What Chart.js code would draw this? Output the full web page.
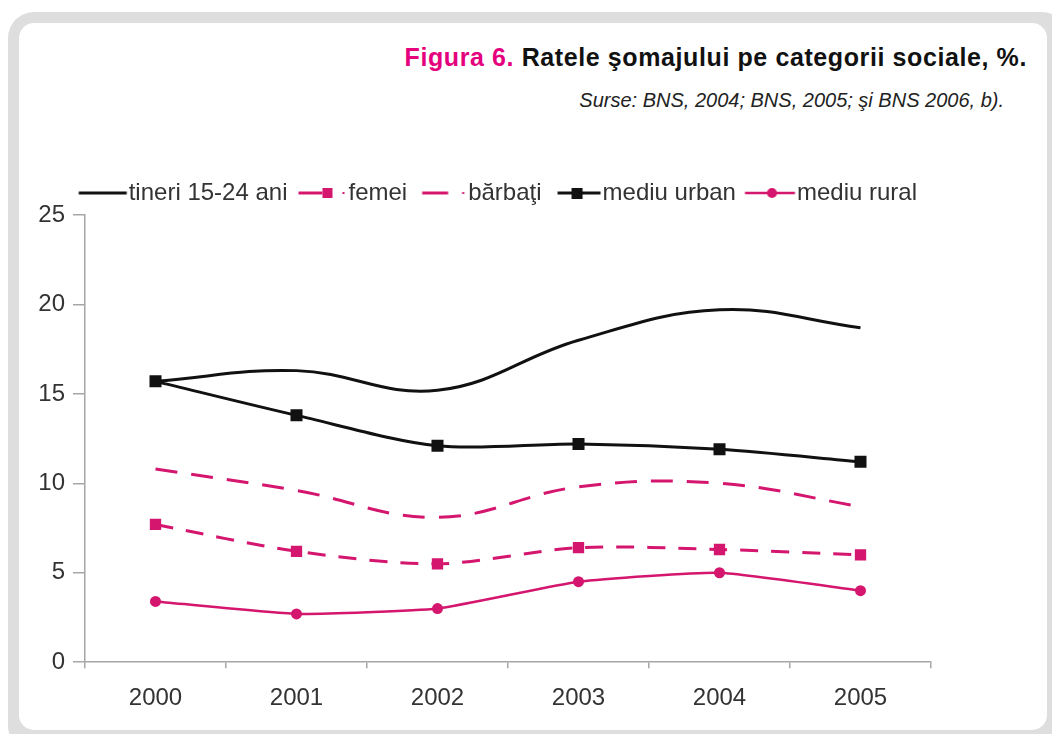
<!DOCTYPE html>
<html>
<head>
<meta charset="utf-8">
<script src="https://cdn.jsdelivr.net/npm/chart.js@4/dist/chart.umd.min.js"></script>
<style>
  body { margin: 0; width: 1052px; height: 734px; overflow: hidden; background: #fff; position: relative; font-family: "Liberation Sans", Arial, sans-serif; }
  #frame { position: absolute; left: 8px; top: 12px; width: 1060px; height: 740px; background: #dedede; border-radius: 26px; }
  #card { position: absolute; left: 19px; top: 23px; width: 1028px; height: 707px; background: #fff; border-radius: 15px; }
  #title { position: absolute; right: 25px; top: 45px; font-size: 25px; line-height: 25px; font-weight: bold; color: #111; letter-spacing: 0.6px; white-space: nowrap; }
  #title span { color: #e5007d; }
  #source { position: absolute; right: 48px; top: 90px; font-size: 20px; line-height: 20px; font-style: italic; color: #222; white-space: nowrap; }
  #chart { position: absolute; left: 0; top: 167px; }
</style>
</head>
<body>
<div id="frame"></div>
<div id="card"></div>
<div id="title"><span>Figura 6.</span> Ratele şomajului pe categorii sociale, %.</div>
<div id="source">Surse: BNS, 2004; BNS, 2005; şi BNS 2006, b).</div>
<canvas id="chart" width="1000" height="562"></canvas>
<script>
const years = ['2000', '2001', '2002', '2003', '2004', '2005'];
const tineri = [15.7, 16.3, 15.2, 18.0, 19.7, 18.7];
const femei = [7.7, 6.2, 5.5, 6.4, 6.3, 6.0];
const barbati = [10.8, 9.6, 8.1, 9.8, 10.0, 8.7];
const urban = [15.7, 13.8, 12.1, 12.2, 11.9, 11.2];
const rural = [3.4, 2.7, 3.0, 4.5, 5.0, 4.0];
const yTicks = [0, 5, 10, 15, 20, 25];

const PINK = '#d4166f';
const BLACK = '#111';

// legend icons: line + marker drawn on a small canvas
function makeIcon(draw) {
    const c = document.createElement('canvas');
    c.width = 100;
    c.height = 20;
    const g = c.getContext('2d');
    g.translate(27.5, 10);
    draw(g);
    return c;
}

function line(g, color, x1, x2, w) {
    g.strokeStyle = color;
    g.lineWidth = w;
    g.beginPath();
    g.moveTo(x1, 0);
    g.lineTo(x2, 0);
    g.stroke();
}

const icons = [
    makeIcon(g => line(g, BLACK, 2, 50, 3)),
    makeIcon(g => {
        line(g, PINK, 2, 26, 3);
        g.fillStyle = PINK;
        g.fillRect(26, -5, 10, 10);
        g.fillRect(46, -1, 2, 2);
    }),
    makeIcon(g => {
        line(g, PINK, 6, 32, 3);
        g.fillStyle = PINK;
        g.fillRect(46, -1, 2, 2);
    }),
    makeIcon(g => {
        line(g, BLACK, 7, 50, 3);
        g.fillStyle = BLACK;
        g.fillRect(21, -5, 11, 11);
    }),
    makeIcon(g => {
        line(g, PINK, 0, 50, 2.5);
        g.fillStyle = PINK;
        g.beginPath();
        g.arc(27, 0, 5, 0, Math.PI * 2);
        g.fill();
    })
];

const ctx = document.getElementById('chart').getContext('2d');

const chart = new Chart(ctx, {
    type: 'line',
    data: {
        labels: years,
        datasets: [
            {
                label: 'tineri 15-24 ani',
                data: tineri,
                borderColor: BLACK,
                borderWidth: 3,
                tension: 0.4,
                pointRadius: 0
            },
            {
                label: 'femei',
                data: femei,
                borderColor: PINK,
                backgroundColor: PINK,
                borderWidth: 3,
                borderDash: [18, 13],
                tension: 0.3,
                pointStyle: 'rect',
                pointRadius: 8,
                pointBorderWidth: 0
            },
            {
                label: 'bărbaţi',
                data: barbati,
                borderColor: PINK,
                borderWidth: 3,
                borderDash: [22, 14],
                tension: 0.4,
                pointRadius: 0
            },
            {
                label: 'mediu urban',
                data: urban,
                borderColor: BLACK,
                backgroundColor: BLACK,
                borderWidth: 3,
                tension: 0.3,
                pointStyle: 'rect',
                pointRadius: 8.5,
                pointBorderWidth: 0
            },
            {
                label: 'mediu rural',
                data: rural,
                borderColor: PINK,
                backgroundColor: PINK,
                borderWidth: 2.5,
                tension: 0.15,
                pointStyle: 'circle',
                pointRadius: 5.5,
                pointBorderWidth: 0
            }
        ]
    },
    options: {
        responsive: false,
        animation: false,
        layout: { padding: { left: 30, right: 69, top: 0, bottom: 0 } },
        plugins: {
            tooltip: { enabled: false },
            legend: {
                position: 'top',
                align: 'end',
                labels: {
                    usePointStyle: true,
                    pointStyleWidth: 35,
                    padding: 14,
                    color: '#333',
                    font: { family: 'Liberation Sans, Arial, sans-serif', size: 24 },
                    generateLabels: ch => ch.data.datasets.map((ds, i) => ({
                        text: ds.label,
                        pointStyle: icons[i],
                        fillStyle: 'transparent',
                        strokeStyle: 'transparent',
                        lineWidth: 0,
                        hidden: false,
                        datasetIndex: i,
                        fontColor: '#333'
                    }))
                }
            }
        },
        scales: {
            x: {
                offset: true,
                grid: { offset: true, drawOnChartArea: false, tickLength: 6, color: '#a6a6a6', lineWidth: 1.5 },
                border: { color: '#a6a6a6', width: 1.5 },
                ticks: {
                    color: '#333',
                    padding: 16,
                    font: { family: 'Liberation Sans, Arial, sans-serif', size: 24 }
                }
            },
            y: {
                min: 0,
                max: 25,
                afterFit: s => { s.width = 55; },
                afterBuildTicks: s => { s.ticks = yTicks.map(v => ({ value: v })); },
                grid: { drawOnChartArea: false, tickLength: 12, color: '#a6a6a6', lineWidth: 1.5 },
                border: { color: '#a6a6a6', width: 1.5 },
                ticks: {
                    color: '#333',
                    padding: 8,
                    font: { family: 'Liberation Sans, Arial, sans-serif', size: 24 }
                }
            }
        }
    }
});
</script>
</body>
</html>
